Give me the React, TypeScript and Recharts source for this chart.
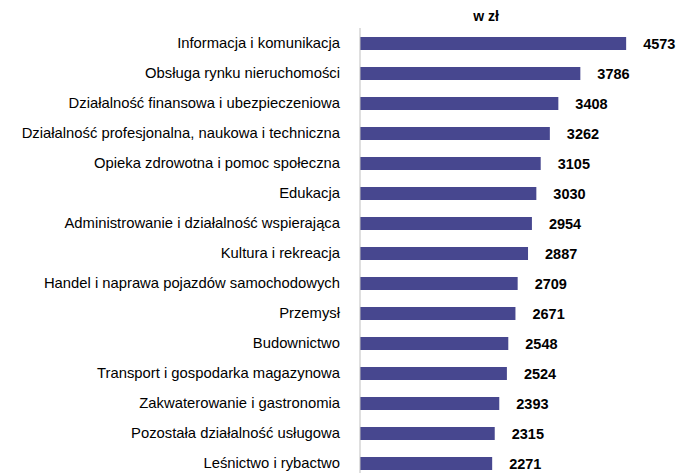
import { BarChart, Bar, XAxis, YAxis, LabelList } from 'recharts';

const categories = [
  'Informacja i komunikacja',
  'Obsługa rynku nieruchomości',
  'Działalność finansowa i ubezpieczeniowa',
  'Działalność profesjonalna, naukowa i techniczna',
  'Opieka zdrowotna i pomoc społeczna',
  'Edukacja',
  'Administrowanie i działalność wspierająca',
  'Kultura i rekreacja',
  'Handel i naprawa pojazdów samochodowych',
  'Przemysł',
  'Budownictwo',
  'Transport i gospodarka magazynowa',
  'Zakwaterowanie i gastronomia',
  'Pozostała działalność usługowa',
  'Leśnictwo i rybactwo',
];

const values = [4573, 3786, 3408, 3262, 3105, 3030, 2954, 2887, 2709, 2671, 2548, 2524, 2393, 2315, 2271];

const data = categories.map((name, i) => ({ name, value: values[i] }));

const font = '"Liberation Sans", Arial, sans-serif';

export default function App() {
  return (
    <div style={{ position: 'absolute', left: 0, top: 0, width: 679, height: 473, overflow: 'hidden', fontFamily: font }}>
      <div
        style={{
          position: 'absolute',
          left: 436,
          width: 100,
          top: 8,
          textAlign: 'center',
          fontSize: 14,
          fontWeight: 'bold',
          color: '#000',
        }}
      >
        w zł
      </div>
      <BarChart
        width={679}
        height={478}
        data={data}
        layout="vertical"
        margin={{ top: 28, right: 28, bottom: 0, left: 0 }}
      >
        <XAxis type="number" domain={[0, 5000]} hide />
        <YAxis
          type="category"
          dataKey="name"
          width={360}
          tickLine={false}
          tickMargin={14}
          axisLine={{ stroke: '#BFBFBF' }}
          tick={{ fill: '#000', fontSize: 14.8, fontFamily: font }}
          interval={0}
        />
        <Bar dataKey="value" fill="#47478F" barSize={13} isAnimationActive={false}>
          <LabelList
            dataKey="value"
            position="right"
            offset={17}
            style={{ fill: '#000', fontSize: 14.5, fontWeight: 'bold', fontFamily: font }}
          />
        </Bar>
      </BarChart>
    </div>
  );
}
